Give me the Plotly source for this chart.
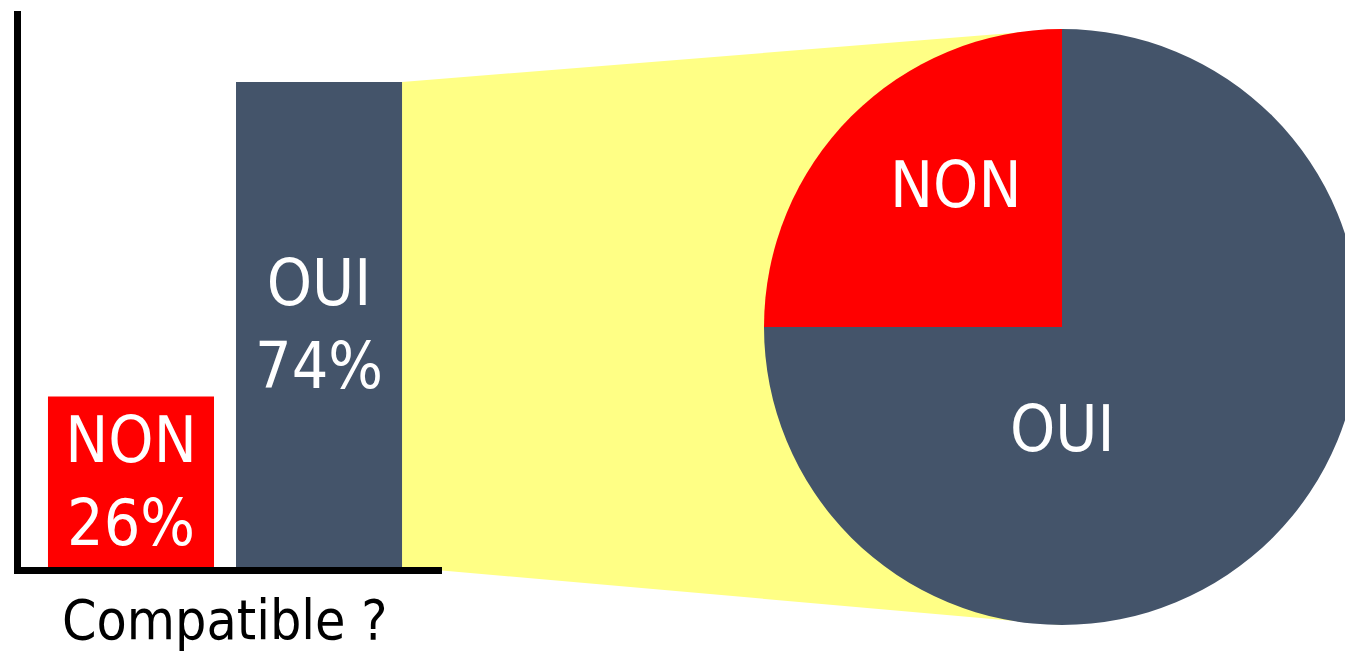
import plotly.graph_objects as go

# ---- data ----
categories = ["NON", "OUI"]
bar_values = [26, 74]            # percent answering each way
pie_labels = ["NON", "OUI"]
pie_values = [25, 75]
colors = {"NON": "#FF0000", "OUI": "#44546A"}

# ---- page geometry ----
W, H = 1380, 651
FONT = "DejaVu Sans Condensed, DejaVu Sans, sans-serif"

x_dom = [21 / W, 442 / W]
y_dom = [1 - 567 / H, 1 - 11 / H]
x_rng = [-0.585, 1.654]
y_rng = [0, 84.83]
bar_width = 0.883

pie_dom_x = [764 / W, 1360 / W]
pie_dom_y = [1 - 625 / H, 1 - 29 / H]
# label offsets from the pie centre, in pixels (right, down)
pie_label_offsets = {"NON": (-107, -142), "OUI": (0, 102)}


def x_to_paper(v):
    return x_dom[0] + (v - x_rng[0]) / (x_rng[1] - x_rng[0]) * (x_dom[1] - x_dom[0])


def y_to_paper(v):
    return y_dom[0] + (v - y_rng[0]) / (y_rng[1] - y_rng[0]) * (y_dom[1] - y_dom[0])


fig = go.Figure()

fig.add_trace(go.Bar(
    x=categories,
    y=bar_values,
    width=bar_width,
    marker=dict(color=[colors[c] for c in categories], line=dict(width=0)),
    text=[f"{c}<br>{v}%" for c, v in zip(categories, bar_values)],
    textposition="inside",
    insidetextanchor="middle",
    constraintext="none",
    textangle=0,
    textfont=dict(family=FONT, size=64, color="white"),
    hoverinfo="skip",
    showlegend=False,
))

# NON slice sits in the upper-left quarter: start at 9 o'clock, run clockwise
fig.add_trace(go.Pie(
    labels=pie_labels,
    values=pie_values,
    sort=False,
    direction="clockwise",
    rotation=-90,
    marker=dict(colors=[colors[c] for c in pie_labels], line=dict(width=0)),
    textinfo="none",
    domain=dict(x=pie_dom_x, y=pie_dom_y),
    hoverinfo="skip",
    showlegend=False,
))

cx = (pie_dom_x[0] + pie_dom_x[1]) / 2
cy = (pie_dom_y[0] + pie_dom_y[1]) / 2
ry = (pie_dom_y[1] - pie_dom_y[0]) / 2

# slice names written inside the pie
for lab in pie_labels:
    dx, dy = pie_label_offsets[lab]
    fig.add_annotation(
        text=lab,
        x=cx + dx / W, y=cy - dy / H,
        xref="paper", yref="paper",
        xanchor="center", yanchor="middle",
        showarrow=False,
        font=dict(family=FONT, size=64, color="white"),
    )

# yellow zoom band joining the OUI bar to the pie
oui_idx = categories.index("OUI")
bx = x_to_paper(oui_idx + bar_width / 2)
b_top = y_to_paper(bar_values[oui_idx])
b_bot = y_to_paper(0)
fig.add_shape(
    type="path",
    xref="paper", yref="paper",
    path=f"M {bx},{b_top} L {cx},{cy + ry} L {cx},{cy - ry} L {bx},{b_bot} Z",
    fillcolor="#FFFF85",
    line=dict(width=0),
    layer="below",
)

fig.add_annotation(
    text="Compatible ?",
    x=0.5, xref="x",
    y=1 - 620 / H, yref="paper",
    xanchor="center", yanchor="middle",
    showarrow=False,
    font=dict(family=FONT, size=55, color="black"),
)

axis_common = dict(
    showline=True, linewidth=7, linecolor="black",
    showgrid=False, zeroline=False, ticks="", showticklabels=False,
    fixedrange=True,
)
fig.update_xaxes(domain=x_dom, range=x_rng, **axis_common)
fig.update_yaxes(domain=y_dom, range=y_rng, **axis_common)

fig.update_layout(
    width=W, height=H,
    margin=dict(l=0, r=0, t=0, b=0),
    paper_bgcolor="white",
    plot_bgcolor="rgba(0,0,0,0)",
    font=dict(family=FONT),
)

fig.write_html(
    "out.html",
    config={"displayModeBar": False},
    post_script="document.documentElement.style.overflow='hidden';document.body.style.overflow='hidden';",
)
